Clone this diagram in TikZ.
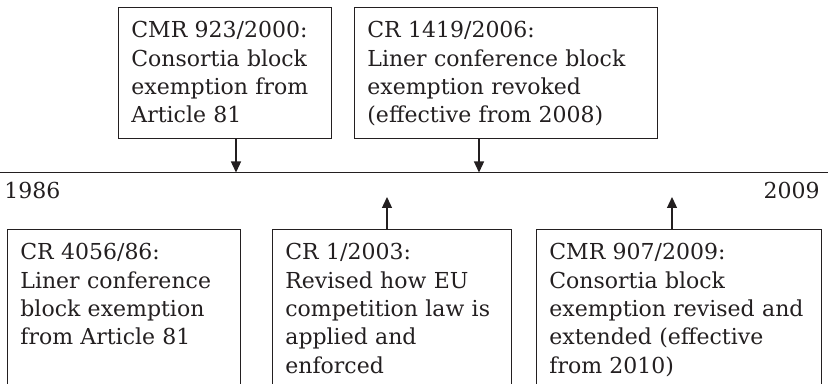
\documentclass[tikz,border=0pt]{standalone}
\usepackage{fontspec}
\setmainfont{DejaVu Serif}
\usetikzlibrary{arrows.meta}
\definecolor{ink}{HTML}{231F20}
\tikzset{
  boxshape/.style={draw=ink, line width=0.65pt, rectangle, inner sep=0pt, anchor=north west},
  boxtext/.style={anchor=base west, inner sep=0pt, text width=160pt, align=left, text=ink,
    font=\fontsize{11pt}{14.15pt}\selectfont},
  yeartext/.style={inner sep=0pt, text=ink, font=\fontsize{11pt}{14.15pt}\selectfont},
  arr/.style={draw=ink, line width=0.65pt, -{Triangle[length=5.5pt,width=5pt]}},
  tline/.style={draw=ink, line width=0.65pt}
}
\begin{document}
\begin{tikzpicture}[x=0.5pt,y=-0.5pt]
\path[use as bounding box] (0,0) rectangle (828,384);
\begin{scope}
\clip (0,0) rectangle (828,384);
% timeline
\coordinate (L) at (0,172.5);
\coordinate (R) at (828,172.5);
\draw[tline] (L) -- (R);
\node[yeartext, anchor=base west] (y1986) at (4,199) {1986};
\node[yeartext, anchor=base east] (y2009) at (820,199) {2009};
% top boxes
\node[boxshape, minimum width=106.5pt, minimum height=65.5pt] (top1) at (118,7) {};
\node[boxtext] (t1) at ([shift={(13,31)}]top1.north west)
  {CMR 923/2000:\\Consortia block\\exemption from\\Article 81};
\node[boxshape, minimum width=151.5pt, minimum height=65.5pt] (top2) at (354,7) {};
\node[boxtext] (t2) at ([shift={(13,31)}]top2.north west)
  {CR 1419/2006:\\Liner conference block\\exemption revoked\\(effective from 2008)};
% bottom boxes
\node[boxshape, minimum width=116.5pt, minimum height=100pt] (bot1) at (7,229) {};
\node[boxtext] (b1) at ([shift={(13,31)}]bot1.north west)
  {CR 4056/86:\\Liner conference\\block exemption\\from Article 81};
\node[boxshape, minimum width=119.5pt, minimum height=100pt] (bot2) at (272,229) {};
\node[boxtext] (b2) at ([shift={(13,31)}]bot2.north west)
  {CR 1/2003:\\Revised how EU\\competition law is\\applied and\\enforced};
\node[boxshape, minimum width=142.5pt, minimum height=100pt] (bot3) at (536,229) {};
\node[boxtext] (b3) at ([shift={(13,31)}]bot3.north west)
  {CMR 907/2009:\\Consortia block\\exemption revised and\\extended (effective\\from 2010)};
% arrow targets
\coordinate (a1) at (236,172.5);
\coordinate (a2) at (479,172.5);
\coordinate (a3) at (387,197);
\coordinate (a4) at (672,197);
\draw[arr] (top1.south -| a1) -- (a1);
\draw[arr] (top2.south -| a2) -- (a2);
\draw[arr] (bot2.north -| a3) -- (a3);
\draw[arr] (bot3.north -| a4) -- (a4);
\end{scope}
\end{tikzpicture}
\end{document}
